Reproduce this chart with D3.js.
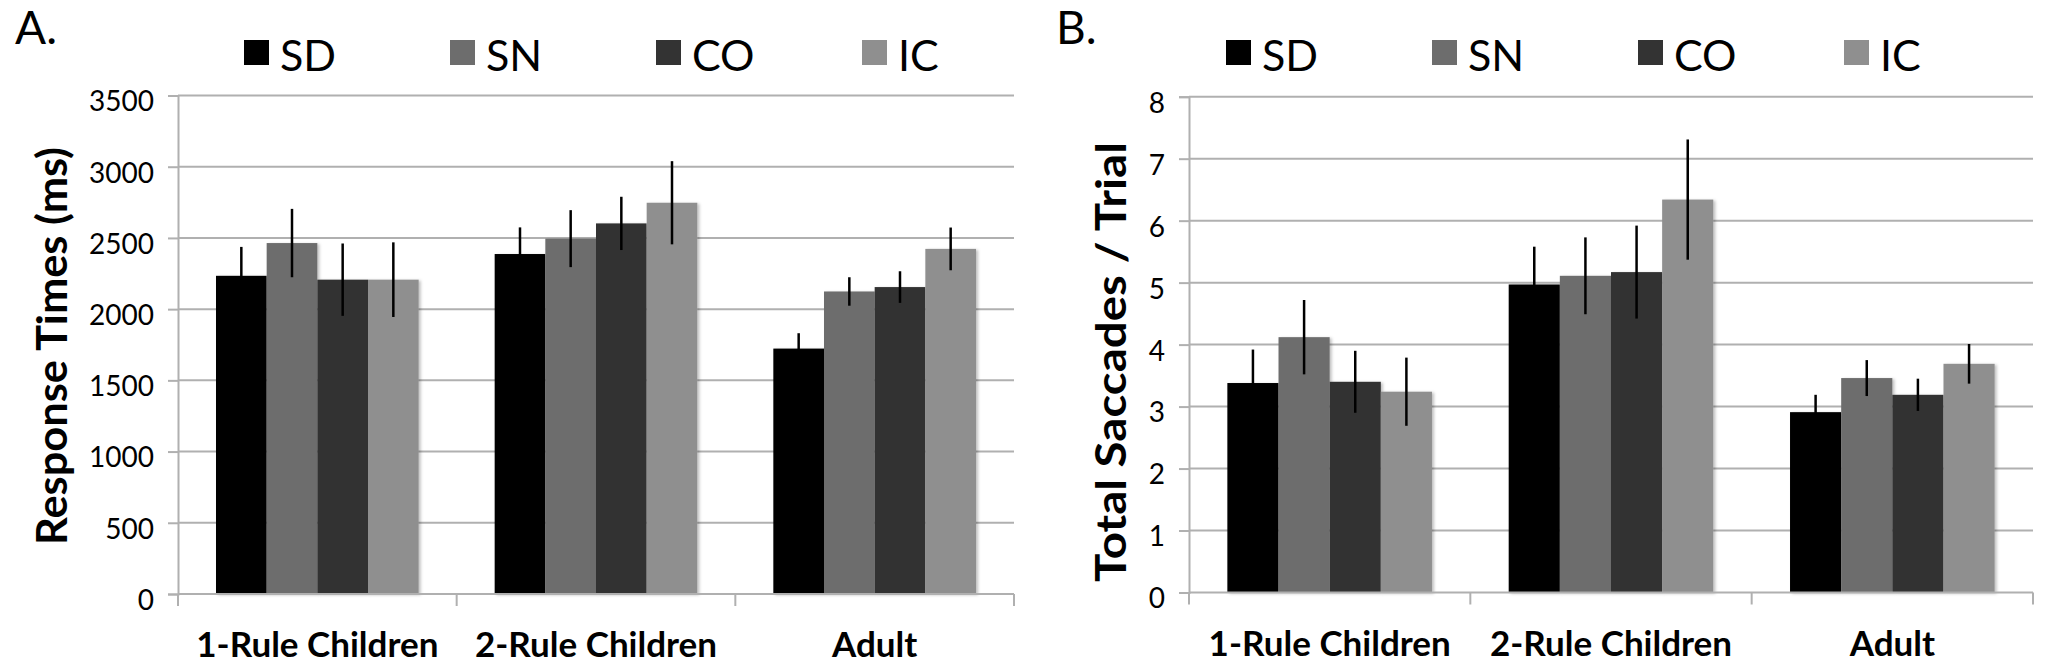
<!DOCTYPE html>
<html>
<head>
<meta charset="utf-8">
<script src="https://cdn.jsdelivr.net/npm/d3@7"></script>
<style>
  body { margin: 0; background: #fff; }
  text { font-family: Lato, 'Open Sans', sans-serif; fill: #000; }
</style>
</head>
<body>
<div id="chart"></div>
<script>
// groups and conditions
const groups = ['1-Rule Children', '2-Rule Children', 'Adult'];
const conditions = ['SD', 'SN', 'CO', 'IC'];
const colors = ['#000000', '#6d6d6d', '#333333', '#8f8f8f'];

// panel A: response times (ms), one array per condition, in group order
const rtSD = [2234, 2387, 1723];
const rtSN = [2464, 2495, 2124];
const rtCO = [2207, 2602, 2155];
const rtIC = [2207, 2747, 2423];
const rtErrSD = [203, 187, 108];
const rtErrSN = [240, 200, 100];
const rtErrCO = [254, 187, 111];
const rtErrIC = [262, 292, 150];
const rtTicks = [0, 500, 1000, 1500, 2000, 2500, 3000, 3500];

// panel B: total saccades / trial
const sacSD = [3.38, 4.97, 2.91];
const sacSN = [4.12, 5.11, 3.46];
const sacCO = [3.40, 5.17, 3.19];
const sacIC = [3.24, 6.34, 3.69];
const sacErrSD = [0.54, 0.61, 0.28];
const sacErrSN = [0.60, 0.62, 0.29];
const sacErrCO = [0.50, 0.75, 0.26];
const sacErrIC = [0.55, 0.97, 0.32];
const sacTicks = [0, 1, 2, 3, 4, 5, 6, 7, 8];

const width = 2055, height = 667;
const gridColor = '#b0b0b0';

const svg = d3.select('#chart')
  .append('svg')
    .attr('width', width)
    .attr('height', height);

const defs = svg.append('defs');
const shadow = defs.append('filter')
    .attr('id', 'shadow')
    .attr('x', '-20%').attr('y', '-5%')
    .attr('width', '140%').attr('height', '110%');
shadow.append('feDropShadow')
    .attr('dx', 2).attr('dy', 1)
    .attr('stdDeviation', 1.5)
    .attr('flood-color', '#000')
    .attr('flood-opacity', 0.25);

function rows(means, errs) {
  const out = [];
  groups.forEach((g, gi) => {
    conditions.forEach((c, ci) => {
      out.push({ group: g, cond: c, value: means[ci][gi], err: errs[ci][gi] });
    });
  });
  return out;
}

function drawPanel(opt) {
  const g = svg.append('g');

  const y = d3.scaleLinear()
    .domain([0, opt.max])
    .range([opt.bottom, opt.top]);

  const x0 = d3.scaleBand()
    .domain(groups)
    .range([opt.left, opt.right])
    .paddingInner(0)
    .paddingOuter(0);

  const x1 = d3.scaleBand()
    .domain(conditions)
    .range([0, x0.bandwidth()])
    .paddingInner(0)
    .paddingOuter(0.75);

  const color = d3.scaleOrdinal()
    .domain(conditions)
    .range(colors);

  // gridlines
  g.append('g')
    .selectAll('line')
    .data(opt.ticks.filter(t => t > 0))
    .enter()
      .append('line')
      .attr('x1', opt.left)
      .attr('x2', opt.right)
      .attr('y1', d => y(d))
      .attr('y2', d => y(d))
      .attr('stroke', gridColor)
      .attr('stroke-width', 2);

  // y axis
  const yAxis = g.append('g')
    .attr('transform', `translate(${opt.left},0)`)
    .call(d3.axisLeft(y)
      .tickValues(opt.ticks)
      .tickFormat(d3.format('d'))
      .tickSize(10)
      .tickPadding(14));
  yAxis.select('.domain').attr('stroke', gridColor).attr('stroke-width', 2);
  yAxis.selectAll('.tick line').attr('stroke', gridColor).attr('stroke-width', 2);
  yAxis.selectAll('.tick text')
    .attr('font-size', 28)
    .attr('font-family', 'Lato, sans-serif')
    .attr('fill', '#000')
    .attr('dy', '0.55em');

  // bars
  const data = rows(opt.means, opt.errs);
  g.append('g')
    .selectAll('rect')
    .data(data)
    .enter()
      .append('rect')
      .attr('x', d => x0(d.group) + x1(d.cond))
      .attr('y', d => y(d.value))
      .attr('width', x1.bandwidth())
      .attr('height', d => opt.bottom - y(d.value))
      .attr('fill', d => color(d.cond))
      .attr('filter', 'url(#shadow)');

  // error bars
  g.append('g')
    .selectAll('line')
    .data(data)
    .enter()
      .append('line')
      .attr('x1', d => x0(d.group) + x1(d.cond) + x1.bandwidth() / 2)
      .attr('x2', d => x0(d.group) + x1(d.cond) + x1.bandwidth() / 2)
      .attr('y1', d => y(d.value + d.err))
      .attr('y2', d => y(d.value - d.err))
      .attr('stroke', '#000')
      .attr('stroke-width', 2.5);

  // x axis line and category boundary ticks
  g.append('line')
    .attr('x1', opt.left).attr('x2', opt.right)
    .attr('y1', opt.bottom).attr('y2', opt.bottom)
    .attr('stroke', gridColor).attr('stroke-width', 2);

  const bounds = groups.map(d => x0(d)).concat([opt.right]);
  g.append('g')
    .selectAll('line')
    .data(bounds)
    .enter()
      .append('line')
      .attr('x1', d => d).attr('x2', d => d)
      .attr('y1', opt.bottom).attr('y2', opt.bottom + 12)
      .attr('stroke', gridColor).attr('stroke-width', 2);

  // category labels
  const xAxis = g.append('g')
    .attr('transform', `translate(0,${opt.bottom})`)
    .call(d3.axisBottom(x0).tickSize(0).tickPadding(0));
  xAxis.select('.domain').remove();
  xAxis.selectAll('.tick text')
    .attr('font-size', 35)
    .attr('font-weight', 'bold')
    .attr('font-family', 'Lato, sans-serif')
    .attr('fill', '#000')
    .attr('y', 63)
    .attr('dy', 0);

  // y title
  g.append('text')
    .attr('transform', `translate(${opt.titleX},${opt.titleY}) rotate(-90)`)
    .attr('text-anchor', 'middle')
    .attr('font-size', 42)
    .attr('font-weight', 'bold')
    .attr('textLength', opt.titleLen)
    .attr('lengthAdjust', 'spacingAndGlyphs')
    .text(opt.title);

  // panel letter
  g.append('text')
    .attr('x', opt.letterX)
    .attr('y', 44)
    .attr('font-size', 46)
    .text(opt.letter);

  // legend
  const legend = g.append('g')
    .selectAll('g')
    .data(conditions)
    .enter()
      .append('g')
      .attr('transform', (d, i) => `translate(${opt.legendX + i * 206},0)`);
  legend.append('rect')
    .attr('x', 0).attr('y', 40)
    .attr('width', 25).attr('height', 25)
    .attr('fill', d => color(d));
  legend.append('text')
    .attr('x', 36).attr('y', 71)
    .attr('font-size', 43)
    .text(d => d);
}

drawPanel({
  left: 178, right: 1014, top: 95.5, bottom: 594,
  max: 3500, ticks: rtTicks,
  means: [rtSD, rtSN, rtCO, rtIC],
  errs: [rtErrSD, rtErrSN, rtErrCO, rtErrIC],
  title: 'Response Times (ms)', titleX: 67, titleY: 346, titleLen: 398,
  letter: 'A.', letterX: 15, legendX: 244
});

drawPanel({
  left: 1189, right: 2033, top: 96.7, bottom: 592.5,
  max: 8, ticks: sacTicks,
  means: [sacSD, sacSN, sacCO, sacIC],
  errs: [sacErrSD, sacErrSN, sacErrCO, sacErrIC],
  title: 'Total Saccades / Trial', titleX: 1126, titleY: 362, titleLen: 440,
  letter: 'B.', letterX: 1056, legendX: 1226
});
</script>
</body>
</html>
